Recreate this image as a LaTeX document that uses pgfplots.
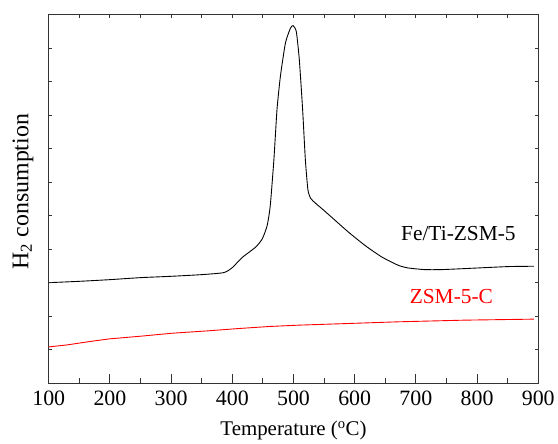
\documentclass[border=0pt]{standalone}
\usepackage{fontspec}
\setmainfont{Liberation Serif}
\usepackage{pgfplots}
\pgfplotsset{compat=1.18}
\begin{document}
\begin{tikzpicture}
\begin{axis}[
  name=ax,
  scale only axis,
  width=492pt, height=370pt,
  xmin=100, xmax=900, ymin=0, ymax=11,
  xtick={100,200,...,900},
  minor x tick num=1,
  xtick pos=bottom,
  ytick=\empty,
  tick align=inside,
  major tick length=9pt,
  minor tick length=5pt,
  axis line style={line width=1.1pt, black!80},
  every tick/.style={line width=0.9pt, black!80},
  /pgf/number format/assume math mode=true,
  /pgf/number format/1000 sep={},
  ticklabel style={font=\fontsize{22}{26}\selectfont},
  xticklabel style={yshift=-4pt},
  xlabel={Temperature (\textsuperscript{o}C)},
  ylabel={H\textsubscript{2} consumption},
  xlabel style={font=\fontsize{21}{25}\selectfont, at={(axis description cs:0.5,-0.13)}, anchor=center},
  ylabel style={font=\fontsize{24}{28}\selectfont, at={(axis description cs:-0.0528,0.52)}, anchor=center},
  clip=false,
]
\addplot[black, line width=0.9pt, smooth, tension=0.35] coordinates {
(100,3.00) (150,3.04) (200,3.09) (250,3.15) (300,3.19) (350,3.24) (386,3.30)
(400,3.45) (416,3.75) (438,4.06) (449,4.31) (457,4.71) (462,5.30) (468,6.69)
(473,8.17) (478.6,9.17) (486.8,10.16) (494.9,10.60) (499.2,10.68) (504.6,10.50)
(509.5,9.66) (514.9,8.17) (519.3,6.69) (523.5,5.78) (528,5.52) (535.6,5.38)
(549,5.17) (562.6,4.95) (589.8,4.51) (617,4.11) (644,3.77) (671,3.52) (687,3.44)
(714.5,3.39) (741.6,3.39) (779.6,3.42) (850,3.48) (893,3.49)
};
\addplot[red, line width=0.9pt] coordinates {
(100,1.08) (130,1.14) (166.7,1.24) (199,1.32) (250,1.40) (302,1.49) (360,1.56)
(410.8,1.63) (460,1.69) (508,1.73) (590,1.78) (671,1.83) (780,1.88) (893,1.91)
};
\node[font=\fontsize{21.5}{25}\selectfont, black] at (axis cs:769.5,4.46) {Fe/Ti-ZSM-5};
\node[font=\fontsize{21.5}{25}\selectfont, red] at (axis cs:758,2.58) {ZSM-5-C};
\end{axis}
\begin{axis}[
  scale only axis,
  width=492pt, height=370pt,
  xmin=100, xmax=900, ymin=0, ymax=11,
  xtick={100,150,...,900},
  ytick={0,1,...,11},
  xtick pos=top,
  xticklabels={}, yticklabels={},
  tick align=inside,
  major tick length=3pt,
  axis line style={draw=none},
  every tick/.style={line width=0.9pt, black!80},
]
\end{axis}
\path ([shift={(-49pt,-58pt)}]ax.south west) rectangle ([shift={(17pt,15pt)}]ax.north east);
\end{tikzpicture}
\end{document}
